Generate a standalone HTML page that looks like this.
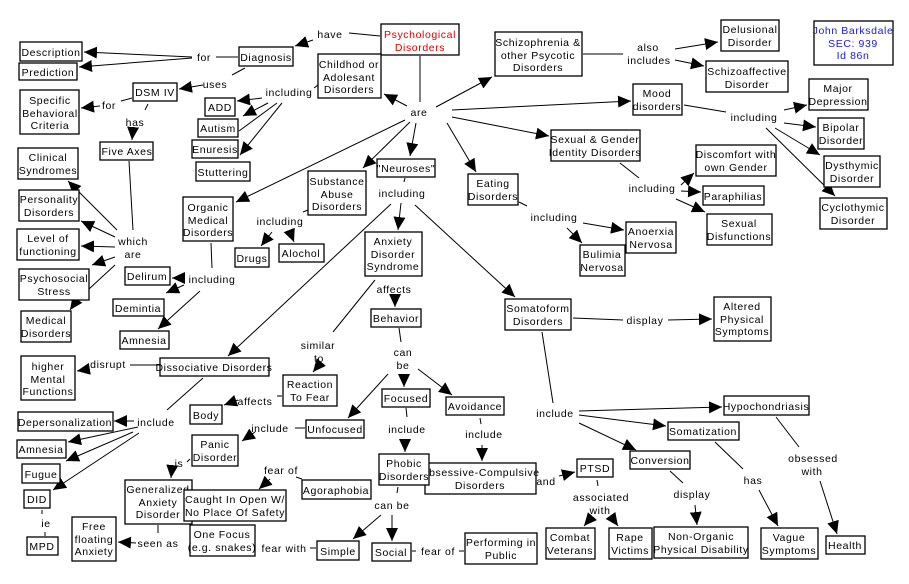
<!DOCTYPE html>
<html><head><meta charset="utf-8"><style>
html,body{margin:0;padding:0;background:#fff;}
svg{display:block;}
text{font-family:"Liberation Sans",sans-serif;font-size:10.5px;letter-spacing:0.6px;fill:#000;text-anchor:middle;}
rect{fill:#fff;stroke:#000;stroke-width:1.3;}
line{stroke:#000;stroke-width:1;}
line.a{marker-end:url(#ar);}
</style></head><body>
<svg width="909" height="584" viewBox="0 0 909 584" xmlns="http://www.w3.org/2000/svg">
<defs><marker id="ar" markerUnits="userSpaceOnUse" markerWidth="14" markerHeight="12" refX="13" refY="6" orient="auto"><path d="M0,0 L13,6 L0,12 z" fill="#000"/></marker></defs>

<!-- lines -->
<line x1="349" y1="33" x2="380" y2="36"/>
<line class="a" x1="313" y1="40" x2="295" y2="46"/>
<line x1="216" y1="57" x2="238" y2="57"/>
<line class="a" x1="192" y1="57" x2="84" y2="52"/>
<line class="a" x1="192" y1="58" x2="79" y2="67"/>
<line x1="245" y1="68" x2="232" y2="75"/>
<line class="a" x1="203" y1="85" x2="179" y2="89"/>
<line x1="420" y1="56" x2="420" y2="102"/>
<line class="a" x1="407" y1="106" x2="384" y2="94"/>
<line x1="318" y1="85" x2="314" y2="88"/>
<line class="a" x1="262" y1="98" x2="237" y2="101"/>
<line class="a" x1="268" y1="103" x2="243" y2="116"/>
<line x1="277" y1="103" x2="239" y2="131"/>
<line class="a" x1="282" y1="103" x2="240" y2="155"/>
<line x1="132" y1="98" x2="121" y2="101"/>
<line class="a" x1="100" y1="106" x2="81" y2="108"/>
<line x1="148" y1="104" x2="145" y2="110"/>
<line class="a" x1="133" y1="128" x2="132" y2="140"/>
<line x1="129" y1="161" x2="133" y2="230"/>
<line class="a" x1="117" y1="230" x2="68" y2="181"/>
<line class="a" x1="115" y1="237" x2="81" y2="221"/>
<line class="a" x1="115" y1="247" x2="81" y2="246"/>
<line class="a" x1="115" y1="257" x2="92" y2="265"/>
<line x1="115" y1="265" x2="89" y2="289"/>
<line class="a" x1="77" y1="300" x2="70" y2="310"/>
<line class="a" x1="405" y1="120" x2="236" y2="202"/>
<line class="a" x1="410" y1="122" x2="363" y2="168"/>
<line x1="308" y1="210" x2="303" y2="212"/>
<line class="a" x1="272" y1="232" x2="261" y2="246"/>
<line class="a" x1="290" y1="232" x2="294" y2="242"/>
<line x1="211" y1="243" x2="212" y2="268"/>
<line class="a" x1="185" y1="278" x2="172" y2="278"/>
<line class="a" x1="184" y1="285" x2="166" y2="293"/>
<line class="a" x1="200" y1="291" x2="158" y2="329"/>
<line class="a" x1="416" y1="123" x2="410" y2="156"/>
<line x1="405" y1="178" x2="404" y2="182"/>
<line class="a" x1="401" y1="203" x2="398" y2="230"/>
<line class="a" x1="391" y1="204" x2="228" y2="356"/>
<line class="a" x1="415" y1="205" x2="515" y2="297"/>
<line class="a" x1="395" y1="296" x2="395" y2="307"/>
<line x1="375" y1="280" x2="333" y2="332"/>
<line class="a" x1="318" y1="366" x2="313" y2="372"/>
<line x1="399" y1="328" x2="401" y2="342"/>
<line class="a" x1="388" y1="374" x2="348" y2="418"/>
<line class="a" x1="404" y1="377" x2="404" y2="387"/>
<line class="a" x1="418" y1="369" x2="452" y2="395"/>
<line x1="406" y1="408" x2="407" y2="417"/>
<line class="a" x1="405" y1="440" x2="405" y2="452"/>
<line x1="480" y1="418" x2="481" y2="424"/>
<line class="a" x1="482" y1="445" x2="482" y2="461"/>
<line x1="398" y1="487" x2="397" y2="493"/>
<line class="a" x1="381" y1="515" x2="353" y2="539"/>
<line class="a" x1="392" y1="515" x2="392" y2="541"/>
<line x1="412" y1="551" x2="416" y2="551"/>
<line x1="459" y1="551" x2="464" y2="551"/>
<line x1="310" y1="548" x2="316" y2="548"/>
<line x1="295" y1="428" x2="305" y2="428"/>
<line class="a" x1="255" y1="432" x2="242" y2="441"/>
<line x1="190" y1="459" x2="187" y2="462"/>
<line class="a" x1="172" y1="468" x2="171" y2="478"/>
<line x1="158" y1="525" x2="158" y2="533"/>
<line class="a" x1="136" y1="543" x2="118" y2="542"/>
<line x1="302" y1="479" x2="296" y2="477"/>
<line class="a" x1="270" y1="479" x2="259" y2="489"/>
<line x1="160" y1="365" x2="130" y2="365"/>
<line class="a" x1="89" y1="369" x2="77" y2="371"/>
<line x1="203" y1="378" x2="167" y2="410"/>
<line class="a" x1="134" y1="421" x2="114" y2="421"/>
<line class="a" x1="138" y1="427" x2="68" y2="442"/>
<line class="a" x1="133" y1="432" x2="66" y2="461"/>
<line class="a" x1="139" y1="433" x2="53" y2="490"/>
<line x1="42" y1="510" x2="42" y2="514"/>
<line x1="45" y1="532" x2="45" y2="536"/>
<line x1="282" y1="396" x2="277" y2="396"/>
<line class="a" x1="238" y1="400" x2="224" y2="405"/>
<line class="a" x1="452" y1="110" x2="631" y2="101"/>
<line class="a" x1="436" y1="107" x2="492" y2="77"/>
<line class="a" x1="452" y1="117" x2="549" y2="136"/>
<line class="a" x1="447" y1="123" x2="476" y2="172"/>
<line x1="583" y1="54" x2="623" y2="54"/>
<line class="a" x1="675" y1="49" x2="718" y2="42"/>
<line class="a" x1="675" y1="60" x2="704" y2="66"/>
<line x1="684" y1="105" x2="726" y2="112"/>
<line class="a" x1="784" y1="110" x2="807" y2="105"/>
<line class="a" x1="784" y1="123" x2="816" y2="127"/>
<line class="a" x1="775" y1="128" x2="820" y2="155"/>
<line class="a" x1="766" y1="128" x2="835" y2="196"/>
<line x1="620" y1="163" x2="639" y2="178"/>
<line class="a" x1="681" y1="185" x2="694" y2="173"/>
<line class="a" x1="681" y1="191" x2="701" y2="192"/>
<line class="a" x1="676" y1="199" x2="705" y2="212"/>
<line x1="519" y1="202" x2="527" y2="206"/>
<line class="a" x1="583" y1="223" x2="624" y2="230"/>
<line class="a" x1="567" y1="228" x2="582" y2="243"/>
<line x1="573" y1="318" x2="623" y2="320"/>
<line class="a" x1="668" y1="320" x2="712" y2="319"/>
<line x1="542" y1="332" x2="553" y2="403"/>
<line class="a" x1="579" y1="411" x2="722" y2="407"/>
<line class="a" x1="579" y1="415" x2="666" y2="426"/>
<line class="a" x1="579" y1="423" x2="636" y2="450"/>
<line x1="776" y1="417" x2="799" y2="447"/>
<line class="a" x1="820" y1="481" x2="837" y2="534"/>
<line x1="715" y1="442" x2="743" y2="469"/>
<line class="a" x1="759" y1="490" x2="778" y2="526"/>
<line x1="670" y1="471" x2="683" y2="483"/>
<line class="a" x1="695" y1="505" x2="697" y2="525"/>
<line class="a" x1="559" y1="476" x2="575" y2="472"/>
<line x1="597" y1="480" x2="598" y2="486"/>
<line class="a" x1="590" y1="519" x2="584" y2="526"/>
<line class="a" x1="613" y1="519" x2="618" y2="526"/>

<!-- boxes -->
<rect x="20" y="42" width="62" height="19"/><text x="51" y="56">Description</text>
<rect x="19" y="63" width="58" height="17"/><text x="48" y="76">Prediction</text>
<rect x="239" y="47" width="54" height="19"/><text x="266" y="61">Diagnosis</text>
<rect x="381" y="24" width="78" height="31"/><text x="420" y="38" style="fill:#d00">Psychological</text><text x="420" y="51" style="fill:#d00">Disorders</text>
<rect x="318" y="54" width="63" height="44"/><text x="349" y="68">Childhod or</text><text x="349" y="81">Adolesant</text><text x="349" y="93">Disorders</text>
<rect x="133" y="83" width="44" height="18"/><text x="155" y="96">DSM IV</text>
<rect x="20" y="90" width="59" height="44"/><text x="50" y="104">Specific</text><text x="50" y="117">Behavioral</text><text x="50" y="129">Criteria</text>
<rect x="205" y="98" width="30" height="18"/><text x="220" y="111">ADD</text>
<rect x="198" y="119" width="40" height="18"/><text x="218" y="132">Autism</text>
<rect x="192" y="140" width="46" height="18"/><text x="215" y="153">Enuresis</text>
<rect x="196" y="162" width="54" height="19"/><text x="223" y="176">Stuttering</text>
<rect x="100" y="142" width="53" height="18"/><text x="127" y="155">Five Axes</text>
<rect x="18" y="148" width="60" height="31"/><text x="48" y="161">Clinical</text><text x="48" y="174">Syndromes</text>
<rect x="19" y="190" width="60" height="31"/><text x="49" y="203">Personality</text><text x="49" y="216">Disorders</text>
<rect x="17" y="229" width="62" height="31"/><text x="48" y="242">Level of</text><text x="48" y="255">functioning</text>
<rect x="19" y="269" width="70" height="31"/><text x="54" y="282">Psychosocial</text><text x="54" y="295">Stress</text>
<rect x="183" y="197" width="50" height="44"/><text x="208" y="211">Organic</text><text x="208" y="224">Medical</text><text x="208" y="236">Disorders</text>
<rect x="308" y="171" width="58" height="44"/><text x="337" y="185">Substance</text><text x="337" y="198">Abuse</text><text x="337" y="210">Disorders</text>
<rect x="377" y="159" width="58" height="18"/><text x="406" y="172">"Neuroses"</text>
<rect x="235" y="248" width="34" height="19"/><text x="252" y="262">Drugs</text>
<rect x="279" y="244" width="45" height="18"/><text x="301" y="257">Alochol</text>
<rect x="365" y="232" width="57" height="44"/><text x="393" y="245">Anxiety</text><text x="393" y="258">Disorder</text><text x="393" y="270">Syndrome</text>
<rect x="125" y="267" width="45" height="18"/><text x="147" y="280">Delirum</text>
<rect x="495" y="32" width="87" height="44"/><text x="538" y="46">Schizophrenia &amp;</text><text x="538" y="59">other Psycotic</text><text x="538" y="71">Disorders</text>
<rect x="721" y="20" width="58" height="31"/><text x="750" y="33">Delusional</text><text x="750" y="46">Disorder</text>
<rect x="706" y="61" width="82" height="31"/><text x="747" y="75">Schizoaffective</text><text x="747" y="88">Disorder</text>
<rect x="814" y="21" width="79" height="44"/><text x="853" y="34" style="fill:#1a1acc">John Barksdale</text><text x="853" y="47" style="fill:#1a1acc">SEC: 939</text><text x="853" y="59" style="fill:#1a1acc">Id 86n</text>
<rect x="633" y="84" width="49" height="31"/><text x="657" y="97">Mood</text><text x="657" y="110">disorders</text>
<rect x="809" y="79" width="59" height="31"/><text x="838" y="92">Major</text><text x="838" y="105">Depression</text>
<rect x="818" y="118" width="46" height="31"/><text x="841" y="131">Bipolar</text><text x="841" y="144">Disorder</text>
<rect x="824" y="156" width="56" height="31"/><text x="852" y="169">Dysthymic</text><text x="852" y="182">Disorder</text>
<rect x="820" y="198" width="67" height="31"/><text x="853" y="211">Cyclothymic</text><text x="853" y="224">Disorder</text>
<rect x="551" y="130" width="89" height="31"/><text x="595" y="143">Sexual &amp; Gender</text><text x="595" y="156">Identity Disorders</text>
<rect x="696" y="145" width="80" height="31"/><text x="736" y="158">Discomfort with</text><text x="736" y="171">own Gender</text>
<rect x="703" y="186" width="61" height="19"/><text x="733" y="200">Paraphilias</text>
<rect x="707" y="214" width="65" height="31"/><text x="739" y="227">Sexual</text><text x="739" y="240">Disfunctions</text>
<rect x="468" y="174" width="50" height="31"/><text x="493" y="187">Eating</text><text x="493" y="200">Disorders</text>
<rect x="626" y="222" width="50" height="31"/><text x="651" y="235">Anoerxia</text><text x="651" y="248">Nervosa</text>
<rect x="580" y="245" width="45" height="31"/><text x="602" y="258">Bulimia</text><text x="602" y="271">Nervosa</text>
<rect x="505" y="299" width="66" height="31"/><text x="538" y="312">Somatoform</text><text x="538" y="325">Disorders</text>
<rect x="714" y="297" width="57" height="44"/><text x="742" y="310">Altered</text><text x="742" y="323">Physical</text><text x="742" y="335">Symptoms</text>
<rect x="724" y="396" width="85" height="19"/><text x="766" y="410">Hypochondriasis</text>
<rect x="668" y="422" width="71" height="18"/><text x="703" y="435">Somatization</text>
<rect x="630" y="451" width="60" height="18"/><text x="660" y="464">Conversion</text>
<rect x="577" y="459" width="36" height="18"/><text x="595" y="472">PTSD</text>
<rect x="425" y="463" width="111" height="31"/><text x="480" y="476">Obsessive-Compulsive</text><text x="480" y="489">Disorders</text>
<rect x="465" y="533" width="72" height="31"/><text x="501" y="546">Performing in</text><text x="501" y="559">Public</text>
<rect x="546" y="528" width="49" height="31"/><text x="570" y="541">Combat</text><text x="570" y="554">Veterans</text>
<rect x="609" y="528" width="43" height="31"/><text x="630" y="541">Rape</text><text x="630" y="554">Victims</text>
<rect x="654" y="527" width="94" height="31"/><text x="701" y="540">Non-Organic</text><text x="701" y="553">Physical Disability</text>
<rect x="761" y="528" width="57" height="31"/><text x="789" y="541">Vague</text><text x="789" y="554">Symptoms</text>
<rect x="826" y="536" width="39" height="18"/><text x="845" y="549">Health</text>
<rect x="446" y="397" width="58" height="18"/><text x="475" y="410">Avoidance</text>
<rect x="113" y="299" width="51" height="17"/><text x="138" y="312">Demintia</text>
<rect x="21" y="311" width="50" height="31"/><text x="46" y="324">Medical</text><text x="46" y="337">Disorders</text>
<rect x="120" y="331" width="49" height="18"/><text x="144" y="344">Amnesia</text>
<rect x="371" y="309" width="50" height="18"/><text x="396" y="322">Behavior</text>
<rect x="160" y="358" width="109" height="18"/><text x="214" y="371">Dissociative Disorders</text>
<rect x="21" y="356" width="54" height="44"/><text x="48" y="370">higher</text><text x="48" y="383">Mental</text><text x="48" y="395">Functions</text>
<rect x="283" y="375" width="54" height="31"/><text x="310" y="388">Reaction</text><text x="310" y="401">To Fear</text>
<rect x="190" y="405" width="32" height="19"/><text x="206" y="419">Body</text>
<rect x="382" y="389" width="48" height="18"/><text x="406" y="402">Focused</text>
<rect x="18" y="412" width="95" height="19"/><text x="65" y="426">Depersonalization</text>
<rect x="306" y="420" width="58" height="18"/><text x="335" y="433">Unfocused</text>
<rect x="17" y="440" width="49" height="18"/><text x="41" y="453">Amnesia</text>
<rect x="192" y="435" width="46" height="31"/><text x="215" y="448">Panic</text><text x="215" y="461">Disorder</text>
<rect x="22" y="464" width="38" height="19"/><text x="41" y="478">Fugue</text>
<rect x="379" y="454" width="50" height="31"/><text x="404" y="467">Phobic</text><text x="404" y="480">Disorders</text>
<rect x="24" y="490" width="26" height="18"/><text x="37" y="503">DID</text>
<rect x="125" y="480" width="67" height="44"/><text x="158" y="493">Generalized</text><text x="158" y="506">Anxiety</text><text x="158" y="518">Disorder</text>
<rect x="184" y="490" width="102" height="31"/><text x="235" y="503">Caught In Open W/</text><text x="235" y="516">No Place Of Safety</text>
<rect x="302" y="480" width="69" height="19"/><text x="336" y="494">Agoraphobia</text>
<rect x="27" y="537" width="31" height="18"/><text x="42" y="550">MPD</text>
<rect x="72" y="517" width="44" height="44"/><text x="94" y="530">Free</text><text x="94" y="543">floating</text><text x="94" y="555">Anxiety</text>
<rect x="190" y="525" width="65" height="31"/><text x="222" y="538">One Focus</text><text x="222" y="551">(e.g. snakes)</text>
<rect x="317" y="541" width="42" height="19"/><text x="338" y="555">Simple</text>
<rect x="372" y="543" width="39" height="18"/><text x="391" y="556">Social</text>

<!-- labels -->
<text x="330" y="38">have</text>
<text x="204" y="61">for</text>
<text x="215" y="88">uses</text>
<text x="289" y="96">including</text>
<text x="109" y="109">for</text>
<text x="135" y="126">has</text>
<text x="419" y="116">are</text>
<text x="133" y="245">which</text>
<text x="133" y="258">are</text>
<text x="212" y="283">including</text>
<text x="280" y="225">including</text>
<text x="402" y="197">including</text>
<text x="394" y="293">affects</text>
<text x="648" y="51">also</text>
<text x="649" y="64">includes</text>
<text x="754" y="121">including</text>
<text x="652" y="192">including</text>
<text x="554" y="221">including</text>
<text x="318" y="349">similar</text>
<text x="319" y="362">to</text>
<text x="403" y="356">can</text>
<text x="403" y="369">be</text>
<text x="108" y="368">disrupt</text>
<text x="255" y="405">affects</text>
<text x="156" y="426">include</text>
<text x="270" y="432">include</text>
<text x="407" y="433">include</text>
<text x="484" y="438">include</text>
<text x="179" y="467">is</text>
<text x="281" y="474">fear of</text>
<text x="46" y="527">ie</text>
<text x="392" y="509">can be</text>
<text x="158" y="547">seen as</text>
<text x="284" y="552">fear with</text>
<text x="438" y="555">fear of</text>
<text x="645" y="324">display</text>
<text x="555" y="417">include</text>
<text x="546" y="485">and</text>
<text x="601" y="501">associated</text>
<text x="600" y="514">with</text>
<text x="692" y="498">display</text>
<text x="753" y="484">has</text>
<text x="813" y="462">obsessed</text>
<text x="812" y="475">with</text>
</svg>
</body></html>
